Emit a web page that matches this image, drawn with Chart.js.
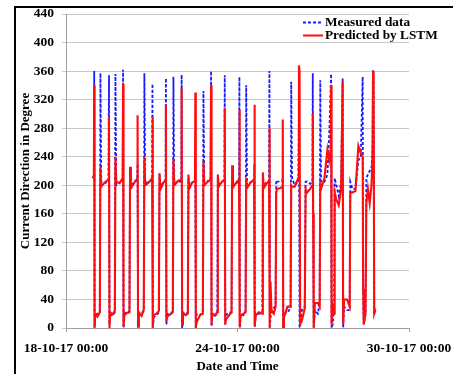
<!DOCTYPE html>
<html>
<head>
<meta charset="utf-8">
<script src="https://cdn.jsdelivr.net/npm/chart.js@4.4.1/dist/chart.umd.min.js"></script>
<style>
html,body{margin:0;padding:0;background:#fff}
#wrap{position:relative;width:453px;height:374px;overflow:hidden}
#frame{position:absolute;left:14px;top:6px;right:-4px;bottom:-4px;border-top:2px solid #000;border-left:2px solid #000}
canvas{position:absolute;left:0;top:0}
</style>
</head>
<body>
<div id="wrap">
<div id="frame"></div>
<canvas id="chart" width="453" height="374"></canvas>
</div>
<script>
// hours since 18-10-17 00:00
const hours=[
22.4,23.4,23.7,24.0,24.6,26.5,28.4,28.9,29.6,32.5,
35.6,36.1,36.5,37.2,39.0,41.0,41.5,42.2,45.0,47.6,
47.9,48.3,49.0,51.0,53.3,53.8,54.5,57.5,59.8,60.1,
60.5,61.2,63.5,65.3,65.8,66.5,69.5,72.3,72.6,73.0,
73.6,76.0,78.0,78.5,79.2,82.0,83.6,83.9,84.3,85.0,
87.5,89.7,90.2,90.9,94.0,96.8,97.1,97.5,98.2,100.5,
102.3,102.8,103.5,106.0,108.3,108.6,109.0,109.7,112.5,114.9,
115.4,116.1,119.0,121.4,121.8,122.2,122.9,125.0,127.0,127.5,
128.2,131.0,133.0,133.3,133.7,134.4,137.0,139.0,139.5,140.2,
143.0,145.3,145.6,146.0,146.7,149.0,150.8,151.3,152.0,155.0,
157.9,158.2,158.6,159.3,162.0,164.8,165.3,166.0,168.5,170.5,
170.8,171.2,171.7,172.5,174.5,176.0,176.5,177.2,180.0,181.7,
182.0,182.4,183.0,186.0,188.6,189.1,189.8,192.0,195.0,195.6,
196.1,196.6,198.0,200.5,201.2,202.5,205.0,206.9,207.2,207.5,
208.0,209.0,211.5,213.0,213.5,214.2,217.0,219.5,221.0,222.3,
222.6,223.0,224.0,225.1,225.6,227.0,229.0,231.0,232.3,232.7,
233.5,236.0,238.2,238.7,240.5,243.0,245.5,247.5,249.1,249.5,
250.0,251.5,252.2,253.5,255.0,256.5,257.4,257.8,258.3,258.8,
259.8]

const measured=[
210,212,360,2,18,20,24,357,205,203,
206,354,5,20,17,22,356,200,204,207,
362,0,22,19,24,215,200,205,208,230,
0,18,20,26,357,203,205,207,342,2,
15,18,22,215,198,205,206,350,5,20,
18,25,352,202,205,205,355,0,18,20,
22,210,200,204,206,210,0,20,18,24,
332,204,206,206,360,2,20,17,20,205,
200,205,206,354,5,18,22,22,205,200,
203,205,352,0,20,18,24,340,200,204,
206,230,2,20,20,22,205,200,204,206,
360,2,15,20,28,32,207,205,205,206,
210,2,20,22,28,345,210,200,205,312,
0,5,25,30,205,205,202,205,357,190,
2,25,20,35,347,200,205,215,270,340,
356,0,5,30,210,200,185,205,350,0,
30,25,25,205,195,195,235,240,352,60,
5,20,210,215,220,225,250,362,330,20,
30]

const predicted=[
210,214,340,0,20,16,22,226,198,204,
208,296,0,22,19,24,240,205,203,210,
342,2,18,21,22,226,196,204,209,298,
2,22,17,25,240,200,204,210,296,0,
18,20,24,217,194,204,208,313,10,16,
19,22,237,200,206,208,336,5,22,18,
20,215,195,204,206,330,0,8,18,20,
233,200,205,208,340,5,20,18,22,215,
198,205,208,308,5,12,18,22,228,197,
204,208,306,2,18,20,22,210,196,204,
208,313,2,18,22,20,218,196,203,206,
280,0,65,25,20,30,190,195,196,198,
292,0,15,30,30,200,198,198,210,368,
360,5,10,28,195,190,195,200,300,160,
0,35,35,30,200,195,210,250,235,250,
340,5,30,20,190,180,172,195,345,5,
40,40,30,190,190,192,255,245,240,55,
5,20,175,195,175,200,240,360,320,20,
25]

const tickHours=[0,144,288]
const tickLabels=['18-10-17 00:00','24-10-17 00:00','30-10-17 00:00']
const seriesNames=['Measured data','Predicted by LSTM']

const serif='"Liberation Serif","Times New Roman",serif'
const blue='#1a1aff'
const red='#ff0d0d'

// legend drawn inside the plot, top right
const legendBox={
id:'legendBox',
afterDraw(chart){
const ctx=chart.ctx
const rows=[
{text:seriesNames[0],color:blue,dash:[3,2]},
{text:seriesNames[1],color:red,dash:[]}
]
ctx.save()
ctx.font='bold 13.3px '+serif
ctx.textBaseline='middle'
rows.forEach((r,i)=>{
const y=22.5+i*13
ctx.strokeStyle=r.color
ctx.lineWidth=r.dash.length?1.8:2
ctx.setLineDash(r.dash)
ctx.beginPath()
ctx.moveTo(303,y)
ctx.lineTo(323,y)
ctx.stroke()
ctx.setLineDash([])
ctx.fillStyle='#000'
ctx.fillText(r.text,325,y+0.5)
})
ctx.restore()
}
}

new Chart(document.getElementById('chart'),{
type:'line',
data:{
datasets:[
{
label:seriesNames[0],
data:hours.map((h,i)=>({x:h,y:measured[i]})),
borderColor:blue,
borderWidth:1.8,
borderDash:[3,2],
pointRadius:0,
tension:0,
order:1
},
{
label:seriesNames[1],
data:hours.map((h,i)=>({x:h,y:predicted[i]})),
borderColor:red,
borderWidth:2.1,
pointRadius:0,
tension:0,
order:0
}
]
},
options:{
responsive:false,
animation:false,
layout:{padding:{left:14,top:14,right:44,bottom:0}},
plugins:{legend:{display:false},tooltip:{enabled:false}},
scales:{
x:{
type:'linear',
min:0,
max:288,
afterFit:s=>{s.height=46;s.paddingLeft=0;s.paddingRight=0},
afterBuildTicks:s=>{s.ticks=tickHours.map(v=>({value:v}))},
ticks:{
callback:(v)=>tickLabels[tickHours.indexOf(v)],
font:{family:serif,size:13.5,weight:'bold'},
color:'#000',
padding:8,
maxRotation:0
},
grid:{drawOnChartArea:false,tickLength:4,color:'#a0a0a0'},
border:{color:'#a0a0a0'},
title:{display:true,text:'Date and Time',font:{family:serif,size:13,weight:'bold'},color:'#000',padding:{top:0,bottom:0}}
},
y:{
min:0,
max:440,
afterFit:s=>{s.width=52;s.paddingTop=0;s.paddingBottom=0},
ticks:{
stepSize:40,
font:{family:serif,size:13.5,weight:'bold'},
color:'#000',
padding:8
},
grid:{color:'#c8c8c8',tickLength:4},
border:{color:'#a0a0a0'},
title:{display:true,text:'Current Direction in Degree',font:{family:serif,size:13,weight:'bold'},color:'#000',padding:{top:4,bottom:0}}
}
}
},
plugins:[legendBox]
})
</script>
</body>
</html>
